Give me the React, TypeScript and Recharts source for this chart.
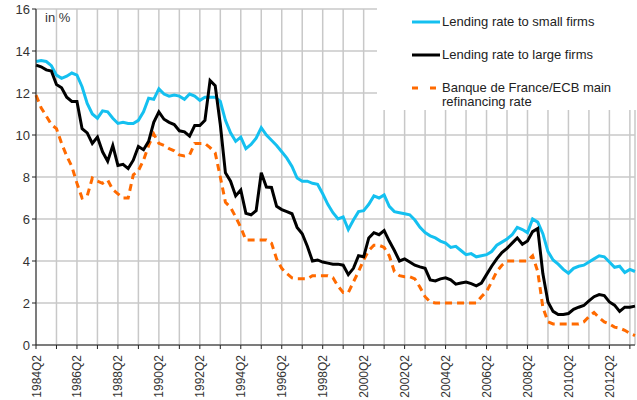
import { CartesianGrid, Legend, Line, LineChart, XAxis, YAxis } from "recharts";

// quarterly, 1984Q2 .. 2013Q3
const firstYear = 1984;
const firstQuarter = 2;

const smallFirms = [
  13.5, 13.55, 13.5, 13.3, 12.85, 12.7, 12.8, 12.95, 12.85, 12.3,
  11.5, 11.0, 10.8, 11.15, 11.1, 10.8, 10.55, 10.6, 10.55, 10.55,
  10.7, 11.1, 11.75, 11.7, 12.2, 11.95, 11.85, 11.9, 11.85, 11.7,
  11.95, 11.85, 11.65, 11.8, 11.8, 11.8, 11.6, 10.7, 10.1, 9.7,
  9.9, 9.35, 9.55, 9.85, 10.35, 10.0, 9.75, 9.5, 9.2, 8.9,
  8.5, 7.95, 7.8, 7.8, 7.7, 7.65, 7.2, 6.7, 6.3, 6.0,
  6.1, 5.5, 5.95, 6.35, 6.4, 6.7, 7.1, 7.0, 7.15, 6.6,
  6.35, 6.3, 6.25, 6.2, 5.95, 5.6, 5.35, 5.2, 5.1, 4.95,
  4.85, 4.65, 4.7, 4.5, 4.3, 4.35, 4.2, 4.25, 4.3, 4.45,
  4.75, 4.9, 5.05, 5.25, 5.6, 5.5, 5.35, 6.0, 5.85, 5.3,
  4.45, 4.05, 3.85, 3.6, 3.42, 3.65, 3.75, 3.8, 3.95, 4.1,
  4.25, 4.2, 3.95, 3.7, 3.75, 3.45, 3.6, 3.5,
];

const largeFirms = [
  13.33, 13.25, 13.1, 13.05, 12.4, 12.25, 11.8, 11.6, 11.6, 10.3,
  10.1, 9.6, 9.9, 9.2, 8.75, 9.5, 8.55, 8.6, 8.4, 8.8,
  9.45, 9.3, 9.7, 10.6, 11.1, 10.75, 10.6, 10.5, 10.2, 10.15,
  9.95, 10.45, 10.45, 10.7, 12.6, 12.35, 10.5, 8.2, 7.8, 7.1,
  7.38, 6.27, 6.2, 6.4, 8.2, 7.52, 7.5, 6.6, 6.45, 6.35,
  6.25, 5.6, 5.3, 4.7, 4.0, 4.05, 3.95, 3.9, 3.85, 3.85,
  3.8, 3.35, 3.65, 4.25, 4.2, 5.1, 5.35, 5.25, 5.45, 4.95,
  4.5, 4.0, 4.1, 3.95, 3.8, 3.72, 3.65, 3.1, 3.05, 3.15,
  3.2, 3.1, 2.9, 2.95, 3.0, 2.92, 2.82, 2.95, 3.35, 3.75,
  4.1, 4.4, 4.6, 4.85, 5.1, 4.8, 4.95, 5.4, 5.55, 3.4,
  2.05, 1.6, 1.45, 1.45, 1.5, 1.7, 1.8, 1.88, 2.1, 2.3,
  2.4, 2.35, 2.05, 1.9, 1.6, 1.8, 1.8, 1.85,
];

const refiRate = [
  11.9, 11.3, 10.9, 10.5, 10.3, 9.6, 9.0, 8.5, 7.7, 7.0,
  7.1, 7.95, 7.8, 7.7, 7.85, 7.4, 7.2, 7.0, 7.0, 8.1,
  8.3, 8.8, 9.5, 10.05, 9.6, 9.5, 9.35, 9.25, 9.05, 9.0,
  9.05, 9.6, 9.6, 9.6, 9.4, 9.15, 8.0, 6.8, 6.55, 6.1,
  5.6, 5.0, 5.0, 5.0, 5.0, 5.0, 4.85, 4.1, 3.65, 3.4,
  3.2, 3.15, 3.15, 3.15, 3.3, 3.3, 3.3, 3.3, 3.2, 2.8,
  2.5, 2.5, 3.0, 3.5, 4.05, 4.5, 4.75, 4.75, 4.65, 4.25,
  3.5, 3.3, 3.25, 3.25, 3.15, 2.75, 2.3, 2.05, 2.0, 2.0,
  2.0, 2.0, 2.0, 2.0, 2.0, 2.0, 2.0, 2.3, 2.55, 3.0,
  3.5, 3.8, 4.0, 4.0, 4.0, 4.0, 4.0, 4.25, 3.5, 1.8,
  1.1, 1.0, 1.0, 1.0, 1.0, 1.0, 1.0, 1.1, 1.35, 1.55,
  1.3, 1.1, 1.0, 0.85, 0.8, 0.7, 0.55, 0.45,
];

const tickLabels = [
  "1984Q2", "1986Q2", "1988Q2", "1990Q2", "1992Q2", "1994Q2", "1996Q2", "1998Q2",
  "2000Q2", "2002Q2", "2004Q2", "2006Q2", "2008Q2", "2010Q2", "2012Q2",
];

const yTicks = [0, 2, 4, 6, 8, 10, 12, 14, 16];

const seriesNames = [
  "Lending rate to small firms",
  "Lending rate to large firms",
  "Banque de France/ECB main refinancing rate",
];

const quarterLabel = (i: number) => {
  const q = firstQuarter - 1 + i;
  return `${firstYear + Math.floor(q / 4)}Q${(q % 4) + 1}`;
};

const data = smallFirms.map((value, i) => ({
  quarter: quarterLabel(i),
  small: value,
  large: largeFirms[i],
  refi: refiRate[i],
}));

// gridline every year (Q2), label every second year
const yearTicks = data.map((d) => d.quarter).filter((q) => q.endsWith("Q2"));

const font = "'Liberation Sans', Arial, sans-serif";
const textColor = "#333";

function QuarterTick({ x, y, payload }: any) {
  if (!tickLabels.includes(payload.value)) return null;
  return (
    <text
      transform={`translate(${x + 4.5},${y + 4}) rotate(-90)`}
      textAnchor="end"
      fontSize={12}
      fontFamily={font}
      fill={textColor}
    >
      {payload.value}
    </text>
  );
}

function LegendBox() {
  const row = { position: "absolute" as const, left: 35, display: "flex", alignItems: "flex-start" };
  return (
    <div
      style={{
        width: 260,
        height: 110,
        background: "#fff",
        position: "relative",
        fontFamily: font,
        fontSize: 13,
        color: "#222",
        lineHeight: "14px",
      }}
    >
      <div style={{ ...row, top: 15 }}>
        <svg width={30} height={14}>
          <line x1={0} x2={28} y1={7} y2={7} stroke="#14c0f0" strokeWidth={3} />
        </svg>
        <span>{seriesNames[0]}</span>
      </div>
      <div style={{ ...row, top: 48 }}>
        <svg width={30} height={14}>
          <line x1={0} x2={28} y1={7} y2={7} stroke="#000" strokeWidth={3} />
        </svg>
        <span>{seriesNames[1]}</span>
      </div>
      <div style={{ ...row, top: 81 }}>
        <svg width={30} height={14}>
          <line x1={0} x2={28} y1={7} y2={7} stroke="#ff6a00" strokeWidth={3} strokeDasharray="6 12" />
        </svg>
        <span style={{ width: 200 }}>{seriesNames[2]}</span>
      </div>
    </div>
  );
}

export default function App() {
  return (
    <div style={{ position: "absolute", left: 0, top: 0, width: 637, height: 400, background: "#fff" }}>
      <LineChart width={637} height={400} data={data} margin={{ top: 9, right: 2, bottom: 0, left: 0 }}>
        <CartesianGrid stroke="#c8c8c8" strokeWidth={1.5} />
        <XAxis
          dataKey="quarter"
          ticks={yearTicks}
          interval={0}
          tick={<QuarterTick />}
          height={55}
          stroke="#222"
          tickSize={4}
        />
        <YAxis
          domain={[0, 16]}
          ticks={yTicks}
          width={36}
          stroke="#222"
          tickSize={4}
          tick={{ fontSize: 13, fontFamily: font, fill: textColor }}
          tickMargin={2}
        />
        <Legend
          layout="vertical"
          align="center"
          verticalAlign="middle"
          wrapperStyle={{ left: 377, top: 0, width: 260, height: 110 }}
          content={<LegendBox />}
        />
        <Line
          dataKey="refi"
          name={seriesNames[2]}
          stroke="#ff6a00"
          strokeWidth={3}
          strokeDasharray="7 5"
          dot={false}
          isAnimationActive={false}
        />
        <Line
          dataKey="small"
          name={seriesNames[0]}
          stroke="#14c0f0"
          strokeWidth={3}
          dot={false}
          isAnimationActive={false}
        />
        <Line
          dataKey="large"
          name={seriesNames[1]}
          stroke="#000"
          strokeWidth={3}
          dot={false}
          isAnimationActive={false}
        />
      </LineChart>
      <div
        style={{
          position: "absolute",
          left: 45,
          top: 10,
          fontFamily: font,
          fontSize: 13,
          color: textColor,
        }}
      >
        in %
      </div>
    </div>
  );
}
